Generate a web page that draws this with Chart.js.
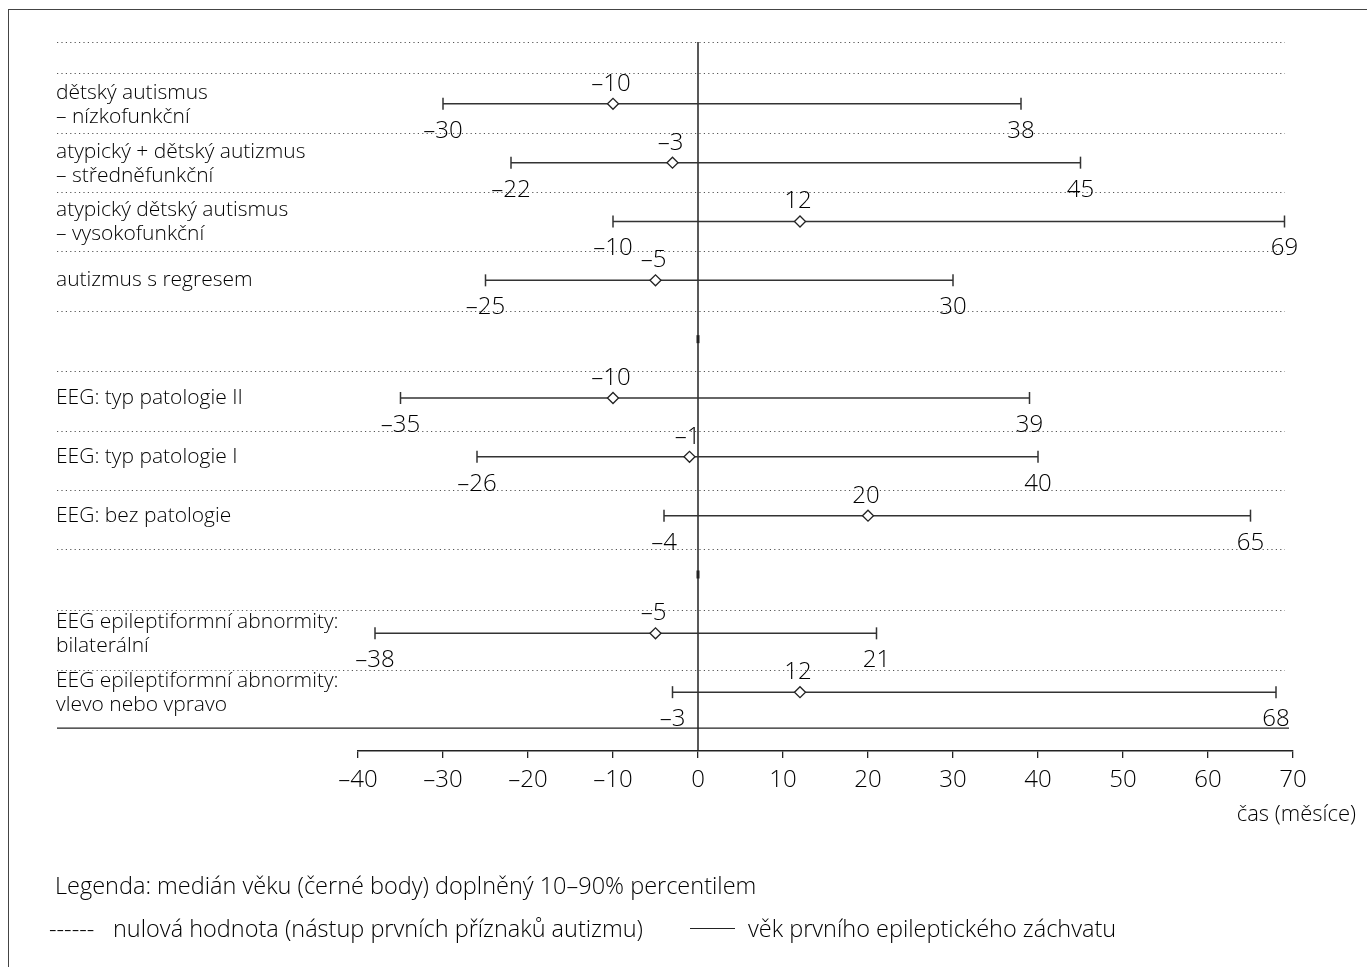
<!DOCTYPE html>
<html lang="cs">
<head>
<meta charset="utf-8">
<title>Věk prvního epileptického záchvatu</title>
<script src="https://cdn.jsdelivr.net/npm/chart.js@4.4.1/dist/chart.umd.min.js"></script>
<style>
  body { margin: 0; background: #fff; width: 1367px; height: 967px; overflow: hidden; position: relative; }
  .frame { position: absolute; left: 8px; top: 9px; width: 2000px; height: 2000px;
           border-left: 1.5px solid #444; border-top: 1.5px solid #444; }
  #chart { position: absolute; left: 0; top: 0; }
  .note { position: absolute; font-family: "Open Sans", sans-serif; font-weight: 300;
          font-size: 23.5px; color: #000; white-space: pre; line-height: 30px; }
  .rule { position: absolute; left: 690px; top: 928px; width: 45px; border-top: 1.3px solid #222; }
</style>
</head>
<body>
<div class="frame"></div>
<canvas id="chart" width="1367" height="967"></canvas>
<div class="note" style="left:55px; top:870px;">Legenda: medián věku (černé body) doplněný 10–90% percentilem</div>
<div class="note" style="left:49px; top:913px;">------</div>
<div class="note" style="left:113px; top:913px;">nulová hodnota (nástup prvních příznaků autizmu)</div>
<div class="rule"></div>
<div class="note" style="left:748px; top:913px;">věk prvního epileptického záchvatu</div>
<script>
// Data (months relative to autism onset)
const rowLabels = [
  ['dětský autismus', '– nízkofunkční'],
  ['atypický + dětský autizmus', '– středněfunkční'],
  ['atypický dětský autismus', '– vysokofunkční'],
  ['autizmus s regresem'],
  ['EEG: typ patologie II'],
  ['EEG: typ patologie I'],
  ['EEG: bez patologie'],
  ['EEG epileptiformní abnormity:', 'bilaterální'],
  ['EEG epileptiformní abnormity:', 'vlevo nebo vpravo']
];
const rowSlots = [1, 2, 3, 4, 6, 7, 8, 10, 11];
const minValues = [-30, -22, -10, -25, -35, -26, -4, -38, -3];
const medianValues = [-10, -3, 12, -5, -10, -1, 20, -5, 12];
const maxValues = [38, 45, 69, 30, 39, 40, 65, 21, 68];
const xTicks = [-40, -30, -20, -10, 0, 10, 20, 30, 40, 50, 60, 70];
const gapSlots = [5, 9];
const separatorSlots = [-0.05, 0.47, 1.49, 2.5, 3.5, 4.52, 5.54, 6.56, 7.56, 8.57, 9.61, 10.63];
const baseLineSlot = 11.61;

const FONT = '"Open Sans", sans-serif';
const INK = '#000';
const fmt = v => (v < 0 ? '–' + Math.abs(v) : String(v));

const datasets = [{
  label: 'median',
  data: medianValues.map((v, i) => ({ x: v, y: rowSlots[i] })),
  pointStyle: 'rectRot',
  pointRadius: 5.5,
  pointBackgroundColor: '#fff',
  pointBorderColor: '#222',
  pointBorderWidth: 1.3,
  showLine: false,
  order: 0
}];
rowSlots.forEach((slot, i) => {
  datasets.push({
    label: 'range ' + i,
    data: [{ x: minValues[i], y: slot }, { x: maxValues[i], y: slot }],
    showLine: true,
    borderColor: '#333',
    borderWidth: 1.5,
    pointStyle: 'line',
    rotation: 90,
    pointRadius: 6,
    pointBorderColor: '#333',
    pointBorderWidth: 1.5,
    order: 1
  });
});

// Separators, zero line, row labels and value labels
const decorations = {
  id: 'decorations',
  beforeDatasetsDraw(chart) {
    const { ctx, scales: { x, y }, chartArea } = chart;
    ctx.save();
    ctx.strokeStyle = '#555';
    ctx.lineWidth = 1;
    ctx.setLineDash([1.2, 3.2]);
    separatorSlots.forEach(s => {
      const py = Math.round(y.getPixelForValue(s)) + 0.5;
      ctx.beginPath();
      ctx.moveTo(57, py);
      ctx.lineTo(1285, py);
      ctx.stroke();
    });
    ctx.setLineDash([]);
    ctx.strokeStyle = '#222';
    ctx.lineWidth = 1.3;
    const by = y.getPixelForValue(baseLineSlot);
    ctx.beginPath();
    ctx.moveTo(57, by);
    ctx.lineTo(1289, by);
    ctx.stroke();
    // zero line
    const zx = x.getPixelForValue(0);
    ctx.lineWidth = 1.5;
    ctx.beginPath();
    ctx.moveTo(zx, y.getPixelForValue(separatorSlots[0]));
    ctx.lineTo(zx, chartArea.bottom);
    ctx.stroke();
    ctx.lineWidth = 3;
    gapSlots.forEach(s => {
      const gy = y.getPixelForValue(s);
      ctx.beginPath();
      ctx.moveTo(zx, gy - 4);
      ctx.lineTo(zx, gy + 4);
      ctx.stroke();
    });
    ctx.restore();
  },
  afterDatasetsDraw(chart) {
    const { ctx, scales: { x, y } } = chart;
    ctx.save();
    ctx.fillStyle = INK;
    ctx.textBaseline = 'middle';
    // row labels
    ctx.font = '300 21px ' + FONT;
    ctx.textAlign = 'left';
    rowLabels.forEach((lines, i) => {
      const cy = y.getPixelForValue(rowSlots[i]);
      if (lines.length === 1) {
        ctx.fillText(lines[0], 56, cy);
      } else {
        ctx.fillText(lines[0], 56, cy - 11);
        ctx.fillText(lines[1], 56, cy + 13);
      }
    });
    // value labels
    ctx.font = '300 24px ' + FONT;
    ctx.textAlign = 'center';
    rowSlots.forEach((slot, i) => {
      const cy = y.getPixelForValue(slot);
      ctx.fillText(fmt(medianValues[i]), x.getPixelForValue(medianValues[i]) - 2, cy - 20);
      ctx.fillText(fmt(minValues[i]), x.getPixelForValue(minValues[i]), cy + 27);
      ctx.fillText(fmt(maxValues[i]), x.getPixelForValue(maxValues[i]), cy + 27);
    });
    // axis title
    ctx.font = '300 22px ' + FONT;
    ctx.textAlign = 'right';
    ctx.fillText('čas (měsíce)', 1356, 815);
    ctx.restore();
  }
};

new Chart(document.getElementById('chart').getContext('2d'), {
  type: 'scatter',
  data: { datasets },
  plugins: [decorations],
  options: {
    responsive: false,
    animation: false,
    layout: { padding: { left: 358, right: 74, top: 45, bottom: 176 } },
    plugins: { legend: { display: false }, tooltip: { enabled: false } },
    scales: {
      x: {
        type: 'linear',
        min: -40,
        max: 70,
        afterBuildTicks: s => { s.ticks = xTicks.map(v => ({ value: v })); },
        afterFit: s => { s.height = 40; },
        border: { display: true, color: '#222', width: 1.5 },
        grid: { drawOnChartArea: false, drawTicks: true, tickLength: 7, color: '#222', lineWidth: 1.3 },
        ticks: {
          color: INK,
          padding: 8,
          font: { family: FONT, size: 24, weight: 300 },
          callback: v => fmt(v)
        }
      },
      y: {
        type: 'linear',
        min: 0,
        max: 12,
        reverse: true,
        display: false
      }
    }
  }
});
</script>
</body>
</html>
